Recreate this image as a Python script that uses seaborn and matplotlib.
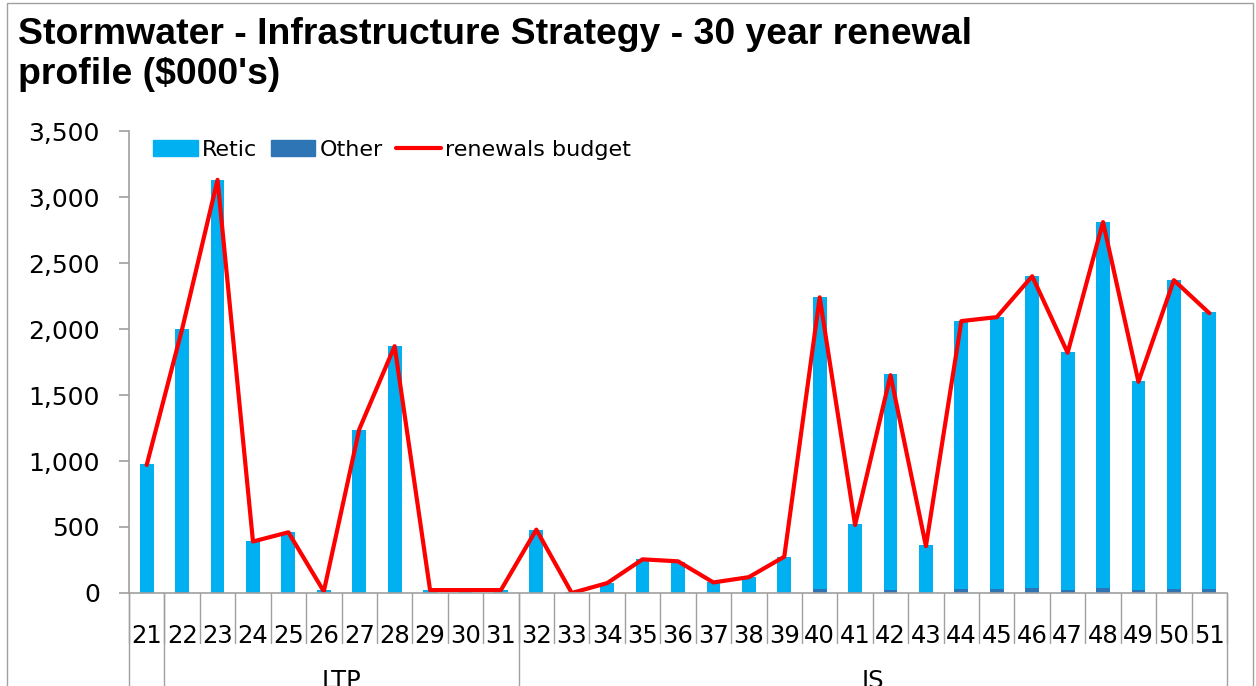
import numpy as np
import pandas as pd
import matplotlib
matplotlib.use("Agg")
import matplotlib.pyplot as plt
from matplotlib.patches import Patch, Rectangle
from matplotlib.lines import Line2D
from matplotlib.transforms import blended_transform_factory
import seaborn as sns

# Financial years (short form) and the planning group each belongs to
years = [str(y) for y in range(21, 52)]
group_names = ["", "LTP", "IS"]
group_sizes = [1, 10, 20]

# Renewal spend by asset class ($000's)
retic = [974, 1995, 3127, 391, 459, 20, 1232, 1868, 17, 17, 17,
         474, 5, 73, 255, 234, 83, 121, 272,
         2215, 518, 1634, 361, 2030, 2060, 2362, 1806, 2775, 1586, 2340, 2102]
other = [3, 5, 3, 3, 3, 3, 3, 3, 3, 3, 3,
         3, 0, 3, 3, 3, 3, 3, 3,
         30, 5, 25, 3, 30, 30, 38, 20, 35, 20, 30, 30]
budget = [970, 2000, 3130, 390, 460, 12, 1240, 1870, 22, 22, 22,
          480, 0, 75, 255, 240, 80, 120, 275,
          2240, 515, 1650, 355, 2060, 2090, 2400, 1820, 2810, 1600, 2370, 2120]

RETIC_C = "#00B0F0"
OTHER_C = "#2E75B6"
LINE_C = "#FF0000"
GREY = "#A0A0A0"

W, H = 1256, 686
sns.set_theme(style="white")
plt.rcParams["font.family"] = ["DejaVu Sans"]
plt.rcParams["text.color"] = "black"
plt.rcParams["xtick.labelcolor"] = "black"
plt.rcParams["ytick.labelcolor"] = "black"

fig = plt.figure(figsize=(W / 100, H / 100), dpi=100)
ax = fig.add_axes([129 / W, 1 - 593 / H, (1227 - 129) / W, (593 - 131) / H])

df = pd.DataFrame({"year": years, "retic": retic, "other": other, "budget": budget})
df["total"] = df["retic"] + df["other"]
n = len(df)

# Stacked columns: full stack in Retic colour, Other drawn over its base
sns.barplot(data=df, x="year", y="total", color=RETIC_C, saturation=1,
            width=0.39, ax=ax, errorbar=None, order=years, linewidth=0)
sns.barplot(data=df, x="year", y="other", color=OTHER_C, saturation=1,
            width=0.39, ax=ax, errorbar=None, order=years, linewidth=0)
sns.lineplot(x=np.arange(n), y=df["budget"], color=LINE_C, lw=3, ax=ax)

ax.set_xlim(-0.5, n - 0.5)
ax.set_ylim(0, 3500)
ax.set_yticks(np.arange(0, 3501, 500))
ax.set_yticklabels([f"{v:,}" for v in range(0, 3501, 500)], fontsize=18)
ax.set_xticks(np.arange(n))
ax.set_xticklabels(years, fontsize=17.5)
ax.set_xticks(np.arange(n + 1) - 0.5, minor=True)
ax.tick_params(axis="x", which="major", length=0, pad=22)
ax.tick_params(axis="x", which="minor", length=5, color=GREY, width=1.2)
ax.tick_params(axis="y", length=7, color=GREY, width=1.2, pad=14, left=True)
ax.set_xlabel("")
ax.set_ylabel("")
for s in ["top", "right"]:
    ax.spines[s].set_visible(False)
for s in ["left", "bottom"]:
    ax.spines[s].set_color(GREY)
    ax.spines[s].set_linewidth(1.2)

# Category table below the axis: short separators between years,
# long separators at group boundaries
tr = blended_transform_factory(ax.transData, fig.transFigure)
y_axis = 1 - 593 / H
y_short = 1 - 643 / H
bounds = np.concatenate([[0], np.cumsum(group_sizes)]) - 0.5
for b in np.arange(n + 1) - 0.5:
    ax.add_line(Line2D([b, b], [y_axis, y_short], transform=tr, color=GREY,
                       lw=1, clip_on=False))
for b in bounds:
    ax.add_line(Line2D([b, b], [y_axis, 0], transform=tr, color=GREY,
                       lw=1, clip_on=False))
for name, lo, hi in zip(group_names, bounds[:-1], bounds[1:]):
    if name:
        ax.text((lo + hi) / 2, 1 - 669 / H, name, transform=tr, ha="center",
                va="top", fontsize=17.5, clip_on=False)

# Legend along the top of the plot area
handles = [Patch(color=RETIC_C, label="Retic"),
           Patch(color=OTHER_C, label="Other"),
           Line2D([], [], color=LINE_C, lw=3, label="renewals budget")]
fig.legend(handles=handles, loc="center left", bbox_to_anchor=(142 / W, 1 - 150 / H),
           ncol=3, frameon=False, fontsize=16, borderpad=0, handlelength=2.0,
           handleheight=0.7, handletextpad=0.2, columnspacing=0.6)

fig.text(18 / W, 1 - 17 / H,
         "Stormwater - Infrastructure Strategy - 30 year renewal\nprofile ($000's)",
         family="Liberation Sans", weight="bold", fontsize=26.9, va="top", ha="left",
         linespacing=1.2, color="black")

# Chart frame
fig.patches.append(Rectangle((7 / W, -0.01), (1253 - 7) / W, 1 - 3 / H + 0.01,
                             transform=fig.transFigure, fill=False,
                             edgecolor=GREY, lw=1))

fig.savefig("out.png", dpi=100)
